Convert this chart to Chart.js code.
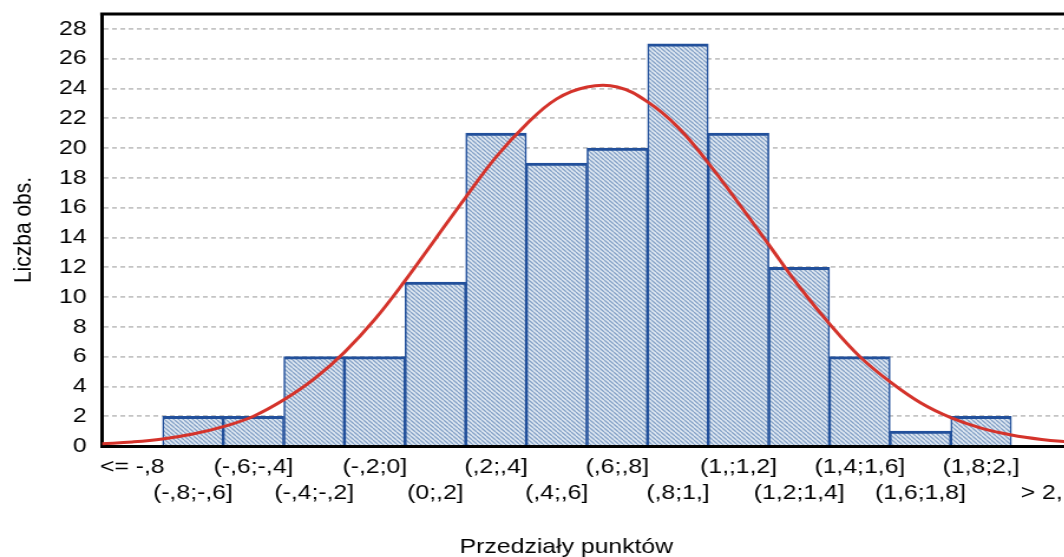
<!DOCTYPE html>
<html lang="pl">
<head>
  <meta charset="UTF-8">
  <title>Histogram - Przedziały punktów</title>
  <script src="https://cdn.jsdelivr.net/npm/chart.js"></script>
  <style>
    html, body { margin: 0; padding: 0; background: #fff; overflow: hidden; }
    /* oryginał jest lekko rozciągnięty w poziomie */
    #wykres { display: block; transform: scaleX(1.18); transform-origin: 0 0; }
  </style>
</head>
<body>
  <canvas id="wykres" width="910" height="557"></canvas>

  <script>
    const przedzialy = ['<= -,8', '(-,8;-,6]', '(-,6;-,4]', '(-,4;-,2]', '(-,2;0]', '(0;,2]', '(,2;,4]', '(,4;,6]',
                        '(,6;,8]', '(,8;1,]', '(1,;1,2]', '(1,2;1,4]', '(1,4;1,6]', '(1,6;1,8]', '(1,8;2,]', '> 2,'];
    const liczbaObs = [0, 2, 2, 6, 6, 11, 21, 19, 20, 27, 21, 12, 6, 1, 2, 0];

    // krzywa normalna
    const krzywaX = [-1.0, -0.9, -0.8, -0.7, -0.6, -0.5, -0.4, -0.3, -0.2, -0.1, 0.0, 0.1, 0.2, 0.3, 0.4, 0.5, 0.6,
                     0.7, 0.8, 0.9, 1.0, 1.1, 1.2, 1.3, 1.4, 1.5, 1.6, 1.7, 1.8, 1.9, 2.0, 2.1, 2.2];
    const krzywaY = [0.15, 0.27, 0.47, 0.8, 1.3, 2.0, 3.1, 4.5, 6.3, 8.5, 11.1, 13.9, 16.7, 19.4, 21.6, 23.3, 24.1,
                     24.1, 23.1, 21.4, 19.0, 16.3, 13.5, 10.7, 8.2, 6.0, 4.3, 2.9, 1.9, 1.2, 0.74, 0.44, 0.25];

    const podzialkaY = [0, 2, 4, 6, 8, 10, 12, 14, 16, 18, 20, 22, 24, 26, 28];

    // etykiety w dwóch rzędach na przemian
    const etykiety = przedzialy.map((p, i) => i % 2 === 0 ? [p, ''] : ['', p]);

    // kreskowanie słupków
    const wzor = document.createElement('canvas');
    wzor.width = 4; wzor.height = 4;
    const g = wzor.getContext('2d');
    g.fillStyle = '#e2eaf3';
    g.fillRect(0, 0, 4, 4);
    g.strokeStyle = '#83a0c6';
    g.lineWidth = 1.3;
    g.beginPath();
    [-4, 0, 4].forEach(k => { g.moveTo(k, 0); g.lineTo(k + 4, 4); });
    g.stroke();
    const kreskowanie = g.createPattern(wzor, 'repeat');

    const czcionka = { family: 'Arial, "Liberation Sans", sans-serif', size: 21 };

    // górna ramka i tytuł osi X (w oryginale nie jest wyśrodkowany na osi)
    const ramkaITytul = {
      id: 'ramkaITytul',
      afterDraw(chart) {
        const { ctx, chartArea } = chart;
        ctx.save();
        ctx.strokeStyle = '#000';
        ctx.lineWidth = 3;
        ctx.beginPath();
        ctx.moveTo(chartArea.left - 1.5, chartArea.top);
        ctx.lineTo(chartArea.right, chartArea.top);
        ctx.stroke();
        ctx.fillStyle = '#000';
        ctx.font = czcionka.size + 'px ' + czcionka.family;
        ctx.textAlign = 'center';
        ctx.textBaseline = 'middle';
        ctx.fillText('Przedziały punktów', 480, 547);
        ctx.restore();
      }
    };

    new Chart(document.getElementById('wykres'), {
      type: 'bar',
      data: {
        labels: etykiety,
        datasets: [{
          type: 'line',
          label: 'Rozkład normalny',
          xAxisID: 'xc',
          data: krzywaX.map((x, i) => ({ x: x, y: krzywaY[i] })),
          borderColor: '#d4332b',
          borderWidth: 3,
          pointRadius: 0,
          tension: 0.4,
          fill: false,
          order: 0
        }, {
          label: 'Liczba obs.',
          data: liczbaObs,
          backgroundColor: kreskowanie,
          borderColor: '#22509b',
          borderWidth: { top: 3, left: 1.6, right: 1.6, bottom: 0 },
          borderSkipped: false,
          grouped: false,
          categoryPercentage: 1,
          barPercentage: 1,
          order: 1
        }]
      },
      options: {
        responsive: false,
        animation: false,
        layout: { padding: { top: 14, right: 1.5, bottom: 0, left: 0 } },
        plugins: { legend: { display: false }, tooltip: { enabled: false } },
        scales: {
          x: {
            type: 'category',
            offset: true,
            grid: { display: false, drawTicks: false },
            border: { display: true, color: '#000', width: 3 },
            ticks: { color: '#000', font: { ...czcionka, lineHeight: 1.2 }, padding: 9, autoSkip: false, maxRotation: 0 },
            title: { display: false },
            afterFit: s => { s.height = 111; s.paddingLeft = 0; s.paddingRight = 0; }
          },
          xc: {
            type: 'linear',
            display: false,
            offset: false,
            min: -1.0,
            max: 2.2
          },
          y: {
            min: 0,
            max: 29,
            ticks: { color: '#000', font: czcionka, padding: 13 },
            afterBuildTicks: s => { s.ticks = podzialkaY.map(v => ({ value: v })); },
            grid: { color: '#c4c4c4', lineWidth: 1.8, drawTicks: false },
            border: { display: true, color: '#000', width: 3, dash: [4, 3] },
            title: { display: true, text: 'Liczba obs.', color: '#000', font: { ...czcionka, lineHeight: 1 }, padding: { top: 10, bottom: 0 } },
            afterFit: s => { s.width = 86.4; s.paddingTop = 0; s.paddingBottom = 0; }
          }
        }
      },
      plugins: [ramkaITytul]
    });
  </script>
</body>
</html>
